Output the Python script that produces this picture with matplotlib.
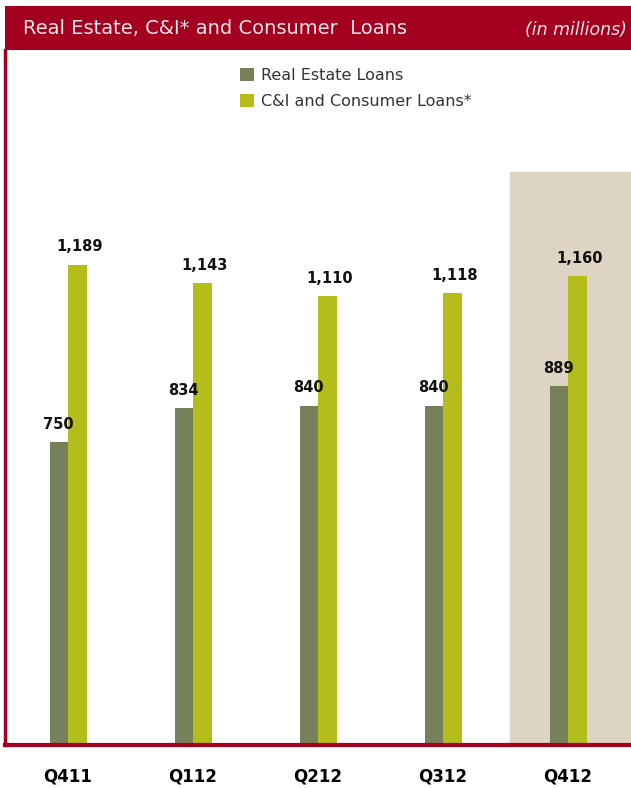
import matplotlib.pyplot as plt
import numpy as np
from matplotlib.patches import Rectangle

quarters = ['Q411', 'Q112', 'Q212', 'Q312', 'Q412']
real_estate = [750, 834, 840, 840, 889]
ci_consumer = [1189, 1143, 1110, 1118, 1160]

dark_green = '#76815a'
lime = '#b4bd19'
maroon = '#a3001f'

W, H = 631, 788
fig = plt.figure(figsize=(W / 100, H / 100), dpi=100)
fig.patch.set_facecolor('white')

# plot area sits under the title bar, bottom at y=745 px
ax = fig.add_axes([5 / W, (H - 745) / H, 626 / W, 695 / H])
ax.set_xlim(-0.504, 4.504)
ax.set_ylim(0, 1720)

x = np.arange(len(quarters))
w = 0.148

# highlight the latest quarter
ax.add_patch(Rectangle((3.536, 0), 1.0, 1418, color='#ddd4c4', zorder=0))

ax.bar(x - w / 2, real_estate, w, color=dark_green, label='Real Estate Loans', zorder=2)
ax.bar(x + w / 2, ci_consumer, w, color=lime, label='C&I and Consumer Loans*', zorder=2)

for i in x:
    ax.text(i - w / 2, real_estate[i] + 25, f'{real_estate[i]:,}', ha='center', va='bottom',
            fontsize=10.5, fontweight='bold', color='#111111')
    ax.text(i + w / 2 + 0.02, ci_consumer[i] + 25, f'{ci_consumer[i]:,}', ha='center', va='bottom',
            fontsize=10.5, fontweight='bold', color='#111111')

ax.set_xticks(x)
ax.set_xticklabels(quarters, fontsize=12, fontweight='bold')
ax.tick_params(axis='x', length=0, pad=16)
ax.set_yticks([])
for side in ['top', 'right']:
    ax.spines[side].set_visible(False)
ax.spines['left'].set_color(maroon)
ax.spines['left'].set_linewidth(2.5)
ax.spines['bottom'].set_color(maroon)
ax.spines['bottom'].set_linewidth(3)

leg = ax.legend(loc='upper left', bbox_to_anchor=(0.365, 0.983), frameon=False,
                fontsize=11.5, handlelength=0.9, handleheight=0.9, handletextpad=0.4,
                labelspacing=0.65, borderaxespad=0)
for t in leg.get_texts():
    t.set_color('#333333')

# title bar
bar_ax = fig.add_axes([5 / W, (H - 50) / H, 626 / W, 44 / H])
bar_ax.set_facecolor(maroon)
bar_ax.set_xticks([])
bar_ax.set_yticks([])
for s in bar_ax.spines.values():
    s.set_visible(False)
bar_ax.text(0.028, 0.5, 'Real Estate, C&I* and Consumer  Loans', color='#f6e6e6',
            fontsize=14, va='center', ha='left', transform=bar_ax.transAxes)
bar_ax.text(0.993, 0.45, '(in millions)', color='#f6e6e6', fontsize=12.5, style='italic',
            va='center', ha='right', transform=bar_ax.transAxes)

fig.savefig('out.png', dpi=100)
